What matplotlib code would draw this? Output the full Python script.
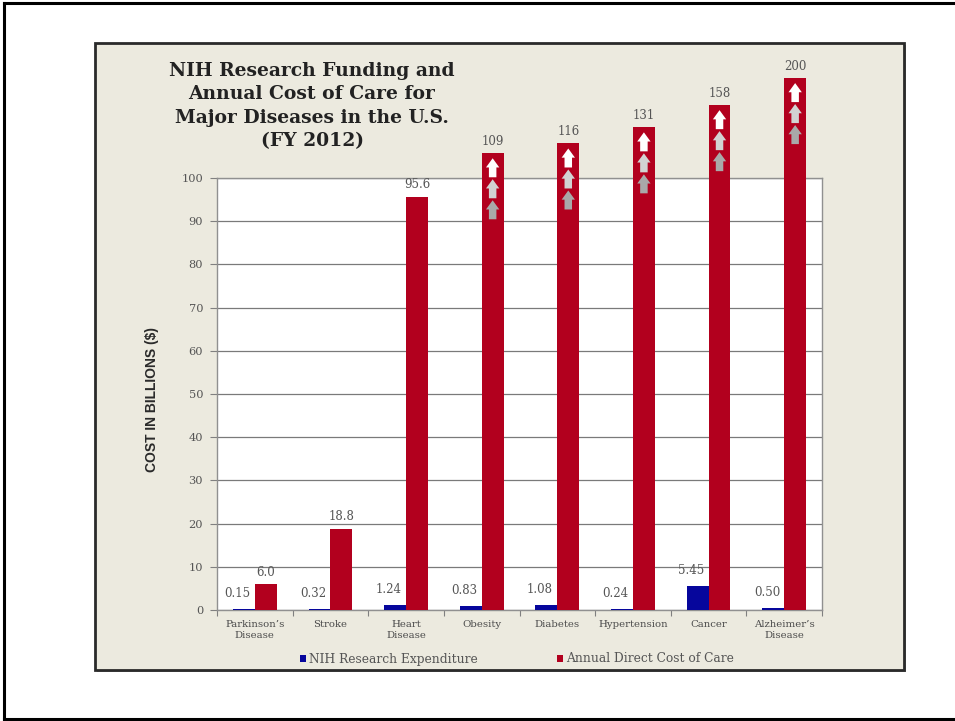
import matplotlib
matplotlib.use("Agg")
import matplotlib.pyplot as plt
from matplotlib.patches import Rectangle, Patch
from matplotlib.lines import Line2D
from matplotlib.transforms import offset_copy
import numpy as np

categories = ["Parkinson\u2019s\nDisease", "Stroke", "Heart\nDisease", "Obesity",
              "Diabetes", "Hypertension", "Cancer", "Alzheimer\u2019s\nDisease"]
nih_funding = [0.15, 0.32, 1.24, 0.83, 1.08, 0.24, 5.45, 0.50]
care_cost = [6.0, 18.8, 95.6, 109, 116, 131, 158, 200]
y_ticks = [0, 10, 20, 30, 40, 50, 60, 70, 80, 90, 100]

BLUE = "#06069c"
RED = "#b2001e"
TXT = "#555555"

W, H = 955, 721
fig = plt.figure(figsize=(W / 100, H / 100), dpi=100)

# outer frame
for xs, ys in [([4, 4], [3, 719]), ([4, W + 5], [3, 3]), ([4, W + 5], [719, 719])]:
    fig.add_artist(Line2D([x / W for x in xs], [1 - y / H for y in ys],
                          color="black", lw=2.2, transform=fig.transFigure))

# beige panel
fig.add_artist(Rectangle((97 / W, 1 - 672 / H), (906 - 97) / W, (672 - 45) / H,
                         transform=fig.transFigure, facecolor="#a0a0a0",
                         edgecolor="none", zorder=-11))
fig.add_artist(Rectangle((95 / W, 1 - 670 / H), (904 - 95) / W, (670 - 43) / H,
                         transform=fig.transFigure, facecolor="#ECEADF",
                         edgecolor="#2a2a2a", lw=2, zorder=-10))

ax = fig.add_axes([217 / W, 1 - 610 / H, (822 - 217) / W, (610 - 178) / H])
ax.set_facecolor("white")


def shown(v):
    # values above 100 are drawn on a compressed scale (broken axis)
    return v if v <= 100 else 100 + 1.6 * (v - 100) ** 0.58


x = np.arange(len(categories))
bw = 0.29
ax.bar(x - bw / 2, nih_funding, width=bw, color=BLUE, zorder=3)
ax.bar(x + bw / 2, [shown(v) for v in care_cost], width=bw, color=RED,
       zorder=3, clip_on=False)

ax.set_xlim(-0.5, len(categories) - 0.5)
ax.set_ylim(0, 100)
ax.set_yticks(y_ticks)
ax.set_yticklabels([str(t) for t in y_ticks], family="DejaVu Serif",
                   fontsize=8.2, color=TXT)
ax.yaxis.grid(True, color="#7a7a7a", lw=0.9)
ax.set_axisbelow(True)
ax.tick_params(axis="y", length=5, color="#808080", pad=5)

ax.set_xticks(np.arange(-0.5, len(categories), 1.0))
ax.set_xticklabels([])
ax.tick_params(axis="x", which="major", length=4, color="#808080")
ax.set_xticks(x, minor=True)
ax.set_xticklabels(categories, minor=True, family="DejaVu Serif",
                   fontsize=7.3, color="#4a4a4a", linespacing=1.3)
ax.tick_params(axis="x", which="minor", length=0, pad=7)
for s in ax.spines.values():
    s.set_color("#909090")
    s.set_linewidth(1)

# value labels
for i, v in enumerate(nih_funding):
    ax.annotate(f"{v:.2f}", xy=(i - bw / 2, v), xytext=(-4.5, 6.5),
                textcoords="offset points", ha="center", va="bottom",
                family="DejaVu Serif", fontsize=8.5, color=TXT,
                annotation_clip=False)
for i, v in enumerate(care_cost):
    lab = f"{v:.1f}" if v < 100 else f"{v:.0f}"
    ax.annotate(lab, xy=(i + bw / 2, shown(v)), xytext=(0, 4),
                textcoords="offset points", ha="center", va="bottom",
                family="DejaVu Serif", fontsize=8.5, color=TXT,
                annotation_clip=False)

# up arrows on bars exceeding the axis
arrow_cols = ["white", "#d2d2d2", "#a9a9a9"]
for i, v in enumerate(care_cost):
    if v <= 100:
        continue
    for k in range(3):
        tr = offset_copy(ax.transData, fig=fig, x=0, y=-(5 + 21 * k), units="dots")
        ax.annotate("", xy=(i + bw / 2, shown(v)), xycoords=tr,
                    xytext=(0, -19 * 0.72), textcoords="offset points",
                    arrowprops=dict(arrowstyle="simple,head_length=0.55,head_width=0.8,tail_width=0.45",
                                    fc=arrow_cols[k], ec="none", shrinkA=0, shrinkB=0,
                                    mutation_scale=12),
                    annotation_clip=False, zorder=5)

# title
fig.text(312 / W, 1 - 106 / H,
         "NIH Research Funding and\nAnnual Cost of Care for\nMajor Diseases in the U.S.\n(FY 2012)",
         ha="center", va="center", family="DejaVu Serif", fontweight="bold",
         fontsize=13.5, color="#222222", linespacing=1.38)

# y label
fig.text(152 / W, 1 - 400 / H, "COST IN BILLIONS ($)", rotation=90,
         ha="center", va="center",
         family=["Liberation Sans Narrow", "Liberation Sans", "DejaVu Sans"],
         fontweight="bold", fontsize=10, color="#2a2a2a")

# legend
handles = [Patch(facecolor=BLUE, edgecolor="none"), Patch(facecolor=RED, edgecolor="none")]
leg = fig.legend(handles, ["NIH Research Expenditure", "Annual Direct Cost of Care"],
                 loc="center", bbox_to_anchor=(517 / W, 1 - 659 / H), ncol=2,
                 frameon=False, handlelength=0.5, handleheight=0.5,
                 handletextpad=0.25, columnspacing=6.5,
                 prop={"family": "DejaVu Serif", "size": 8.8})
for t in leg.get_texts():
    t.set_color(TXT)

fig.savefig("out.png", dpi=100)
